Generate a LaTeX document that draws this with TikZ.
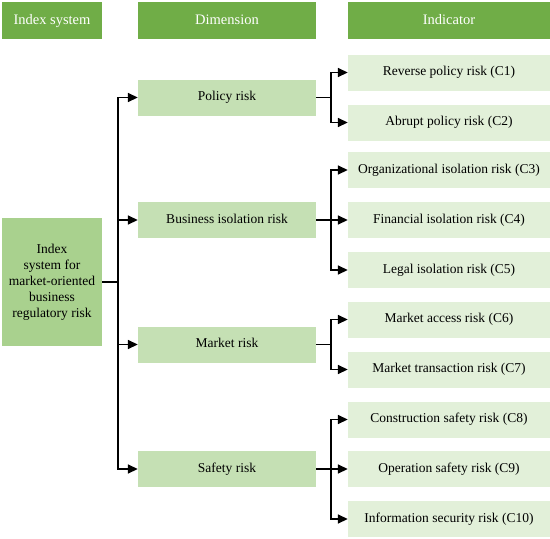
\documentclass[tikz,border=0pt]{standalone}
\usepackage{fontspec}
\setmainfont{Liberation Serif}
\usetikzlibrary{arrows.meta}
\definecolor{hdr}{HTML}{70AD47}
\definecolor{dimc}{HTML}{C5E0B4}
\definecolor{indc}{HTML}{E2F0D9}
\definecolor{leftc}{HTML}{A9D18E}
\begin{document}
\begin{tikzpicture}[x=1pt,y=-1pt,
  hdrbox/.style={fill=hdr,text=white,inner sep=0pt,minimum height=37pt,text height=10.5pt,text depth=3pt,font=\fontsize{14.5}{17}\selectfont},
  dimbox/.style={fill=dimc,inner sep=0pt,minimum width=178pt,minimum height=36pt,text height=9.5pt,text depth=3pt,font=\fontsize{13.5}{16}\selectfont},
  indbox/.style={fill=indc,inner sep=0pt,minimum width=202pt,minimum height=36pt,text height=9.5pt,text depth=3pt,font=\fontsize{13.5}{16}\selectfont},
  leftbox/.style={fill=leftc,inner sep=0pt,minimum width=100pt,minimum height=128pt,align=center,font=\fontsize{13.5}{16}\selectfont},
  conn/.style={line width=1.6pt,-{Triangle[length=10pt,width=9pt]}}
]
\useasboundingbox (0,0) rectangle (550,539);
% headers
\node[hdrbox,minimum width=100pt] (h1) at (52,20.5) {Index system};
\node[hdrbox,minimum width=178pt] (h2) at (227,20.5) {Dimension};
\node[hdrbox,minimum width=202pt] (h3) at (449,20.5) {Indicator};
% left box
\node[leftbox] (L) at (52,282) {Index\\system for\\market-oriented\\business\\regulatory risk};
% dimensions
\node[dimbox] (D1) at (227,97.5) {Policy risk};
\node[dimbox] (D2) at (227,220) {Business isolation risk};
\node[dimbox] (D3) at (227,344.5) {Market risk};
\node[dimbox] (D4) at (227,469) {Safety risk};
% indicators
\node[indbox] (C1) at (449,72.5) {Reverse policy risk (C1)};
\node[indbox] (C2) at (449,122.5) {Abrupt policy risk (C2)};
\node[indbox] (C3) at (449,170) {Organizational isolation risk (C3)};
\node[indbox] (C4) at (449,220) {Financial isolation risk (C4)};
\node[indbox] (C5) at (449,270) {Legal isolation risk (C5)};
\node[indbox] (C6) at (449,319.5) {Market access risk (C6)};
\node[indbox] (C7) at (449,369.5) {Market transaction risk (C7)};
\node[indbox] (C8) at (449,419.5) {Construction safety risk (C8)};
\node[indbox] (C9) at (449,469) {Operation safety risk (C9)};
\node[indbox] (C10) at (449,519) {Information security risk (C10)};
% connectors
\foreach \d in {D1,D2,D3,D4}
  \draw[conn] (L.east) -- ++(16,0) |- (\d.west);
\foreach \c in {C1,C2}
  \draw[conn] (D1.east) -- ++(15,0) |- (\c.west);
\foreach \c in {C3,C4,C5}
  \draw[conn] (D2.east) -- ++(15,0) |- (\c.west);
\foreach \c in {C6,C7}
  \draw[conn] (D3.east) -- ++(15,0) |- (\c.west);
\foreach \c in {C8,C9,C10}
  \draw[conn] (D4.east) -- ++(15,0) |- (\c.west);
\end{tikzpicture}
\end{document}
